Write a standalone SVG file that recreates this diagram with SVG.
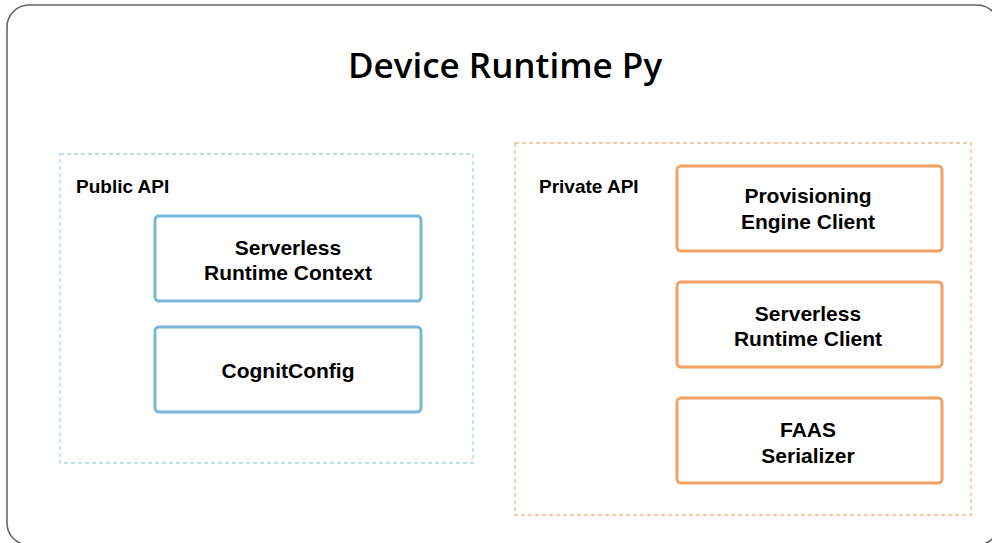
<svg xmlns="http://www.w3.org/2000/svg" width="992" height="543" viewBox="0 0 992 543">
<style>
.title{font-family:"Open Sans","Noto Sans",sans-serif;font-size:35px;font-weight:600;fill:#000;text-anchor:middle}
.lbl{font-family:"Liberation Sans",Arial,sans-serif;font-size:19px;font-weight:bold;fill:#000}
.nt{font-family:"Liberation Sans",Arial,sans-serif;font-size:21px;font-weight:bold;fill:#000;text-anchor:middle}
.bnode{fill:#fff;stroke:#76b7da;stroke-width:3}
.onode{fill:#fff;stroke:#f2a263;stroke-width:3}
.bgrp{fill:none;stroke:#a9d3ea;stroke-width:1.3;stroke-dasharray:4 3}
.ogrp{fill:none;stroke:#f5b688;stroke-width:1.3;stroke-dasharray:4 3}
</style>
<rect width="992" height="543" fill="#fff"/>
<g id="outer">
<rect x="7" y="5" width="992" height="540" rx="22" fill="#fff" stroke="#666" stroke-width="1.6"/>
<text class="title" x="505" y="78">Device Runtime Py</text>
</g>
<g id="public-api">
<rect class="bgrp" x="60" y="154" width="413" height="309"/>
<text class="lbl" x="76" y="193">Public API</text>
</g>
<g id="private-api">
<rect class="ogrp" x="515" y="143" width="456" height="372"/>
<text class="lbl" x="539" y="193">Private API</text>
</g>
<g id="serverless-runtime-context">
<rect class="bnode" x="155" y="216" width="266" height="85" rx="4"/>
<text class="nt" x="288" y="255">Serverless</text>
<text class="nt" x="288" y="280">Runtime Context</text>
</g>
<g id="cognit-config">
<rect class="bnode" x="155" y="327" width="266" height="85" rx="4"/>
<text class="nt" x="288" y="378">CognitConfig</text>
</g>
<g id="provisioning-engine-client">
<rect class="onode" x="677" y="166" width="265" height="85" rx="4"/>
<text class="nt" x="808" y="203">Provisioning</text>
<text class="nt" x="808" y="229">Engine Client</text>
</g>
<g id="serverless-runtime-client">
<rect class="onode" x="677" y="282" width="265" height="85" rx="4"/>
<text class="nt" x="808" y="321">Serverless</text>
<text class="nt" x="808" y="346">Runtime Client</text>
</g>
<g id="faas-serializer">
<rect class="onode" x="677" y="398" width="265" height="85" rx="4"/>
<text class="nt" x="808" y="437">FAAS</text>
<text class="nt" x="808" y="463">Serializer</text>
</g>
<g id="connectors"></g>
</svg>
